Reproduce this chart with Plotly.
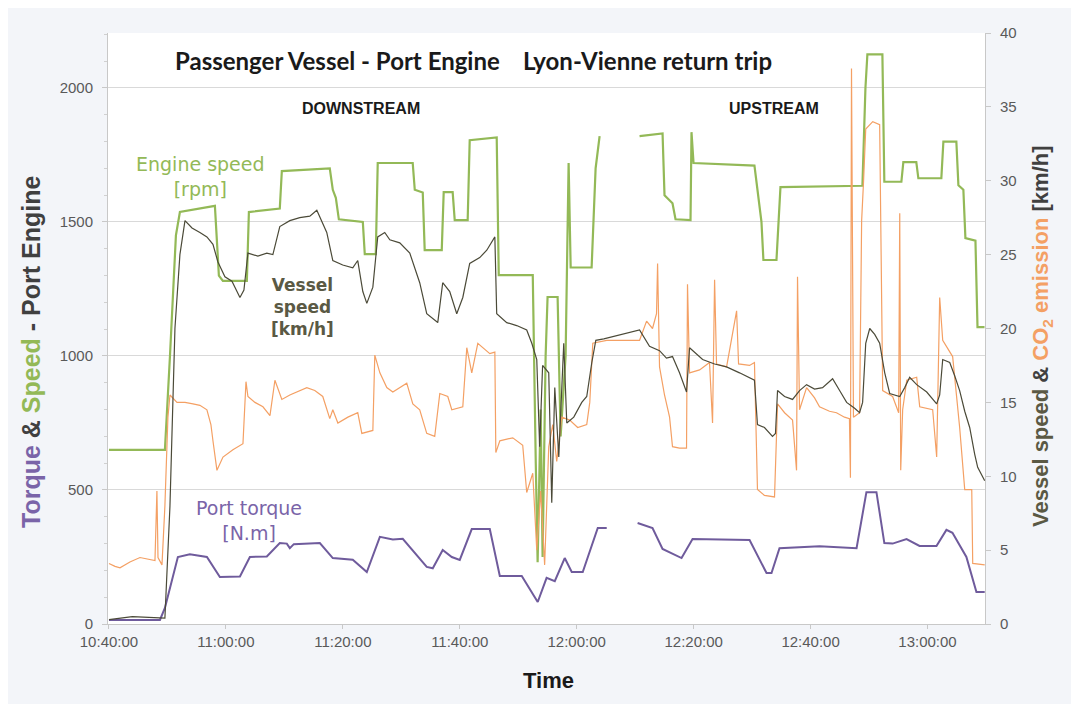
import plotly.graph_objects as go

DAY = "2000-01-01 "

# ---------------- data ----------------
engine_t = ["10:40:00","10:49:34","10:50:26","10:51:27","10:52:08","10:58:07","10:58:48","10:59:29",
            "11:03:35","11:03:56","11:09:13","11:09:34","11:17:46","11:18:17","11:18:48","11:19:19",
            "11:23:25","11:23:45","11:25:38","11:25:58","11:31:57","11:32:18","11:33:40","11:34:00",
            "11:36:55","11:37:15","11:38:47","11:39:08","11:41:21","11:41:42","11:46:19","11:46:40",
            "11:52:19","11:52:29","11:53:00","11:53:19","11:53:50","11:54:10","11:54:41","11:55:01",
            "11:56:44","11:57:15","11:58:06","11:58:37","11:58:58","12:02:33","12:03:14","12:03:55",
            "12:07:00",
            "12:10:45","12:14:41","12:15:01","12:16:23","12:16:54","12:19:28","12:19:38","12:19:59",
            "12:30:24","12:31:05","12:31:36","12:31:56","12:34:10","12:34:51","12:48:52","12:49:23",
            "12:49:43","12:52:17","12:52:37","12:55:32","12:55:52","12:58:05","12:58:26","13:02:22",
            "13:02:43","13:04:56","13:05:17","13:06:08","13:06:29","13:08:12","13:08:33","13:09:45"]
engine_rpm = [650,650,1000,1450,1537,1560,1300,1280,
              1280,1537,1550,1690,1700,1620,1590,1510,
              1500,1380,1380,1720,1720,1620,1610,1395,
              1395,1611,1611,1507,1507,1805,1815,1302,
              1302,1302,600,230,800,250,1000,1220,
              1220,700,1000,1720,1330,1330,1700,1820,
              None,
              1820,1830,1600,1570,1510,1507,1835,1720,
              1710,1600,1500,1358,1358,1630,1635,2000,
              2125,2125,1650,1650,1723,1723,1663,1663,
              1800,1800,1637,1620,1440,1430,1108,1108]

vessel_t = ["10:40:00","10:44:00","10:49:34","10:50:26","10:51:17","10:52:08","10:53:00","10:54:12",
            "10:55:33","10:56:45","10:57:47","10:58:38","10:59:50","11:01:02","11:02:24","11:03:05",
            "11:03:46","11:05:28","11:07:00","11:08:02","11:09:13","11:10:56","11:12:38","11:14:21",
            "11:15:33","11:16:24","11:17:15","11:18:17","11:19:59","11:21:42","11:22:33","11:23:25",
            "11:24:06","11:25:08","11:25:58","11:27:10","11:28:02","11:29:44","11:31:27","11:33:09",
            "11:34:21","11:36:14","11:37:05","11:38:17","11:39:29","11:40:31","11:41:42","11:43:25",
            "11:44:37","11:46:00","11:46:19","11:48:02","11:49:44","11:51:27","11:52:19","11:53:10",
            "11:53:40","11:54:10","11:55:13","11:55:44","11:56:15","11:56:56","11:57:47","11:58:18",
            "11:59:30","12:00:52","12:01:43","12:02:35","12:03:16","12:04:38","12:10:45","12:12:27",
            "12:14:10","12:15:21","12:16:23","12:17:35","12:18:47","12:19:18","12:20:30","12:21:32",
            "12:23:35","12:25:38","12:27:51","12:29:34","12:30:24","12:30:55","12:32:07","12:33:29",
            "12:34:00","12:34:21","12:35:33","12:36:55","12:38:07","12:39:19","12:40:41","12:42:03",
            "12:43:46","12:44:58","12:46:10","12:47:32","12:48:23","12:48:54","12:49:26","12:50:07",
            "12:50:58","12:51:49","12:52:41","12:53:32","12:55:15","12:56:06","12:56:57","12:58:09",
            "12:59:52","13:01:34","13:02:05","13:02:36","13:03:48","13:04:39","13:05:30","13:06:22",
            "13:07:13","13:08:04","13:08:35","13:09:47"]
vessel_kmh = [0.3,0.5,0.4,8.0,20.0,25.0,27.3,26.8,
              26.5,26.2,25.7,24.5,23.5,23.2,22.1,22.6,
              25.1,24.9,25.1,25.0,26.9,27.3,27.5,27.6,
              28.0,27.3,26.5,24.6,24.3,24.1,24.6,22.5,
              21.7,22.8,26.2,26.5,26.0,25.8,25.1,23.1,
              21.0,20.4,23.1,22.5,21.0,22.1,24.4,24.8,
              25.3,26.2,21.0,20.4,20.2,19.9,19.0,17.9,
              12.0,17.5,17.0,8.2,16.0,11.3,19.0,13.6,
              14.0,15.0,15.4,17.7,19.2,19.3,19.9,18.8,
              18.5,18.0,18.1,17.0,15.7,18.7,18.3,17.9,
              17.6,17.4,17.0,16.7,16.5,13.5,13.3,12.7,
              12.9,15.8,15.4,15.2,15.8,16.2,15.9,16.0,
              16.6,15.8,15.0,14.6,14.3,15.0,19.0,20.0,
              19.6,19.0,17.0,15.6,15.4,16.0,16.7,16.2,
              15.7,14.9,15.5,17.9,17.7,16.8,15.8,14.4,
              13.3,11.5,10.6,9.7]

co2_t = ["10:40:00","10:41:02","10:41:53","10:43:35","10:45:18","10:46:40","10:47:52","10:48:12",
         "10:48:23","10:49:04","10:49:34","10:50:05","10:50:26","10:51:38","10:53:00","10:54:22",
         "10:55:33","10:56:45","10:57:26","10:57:47","10:58:28","10:59:30","11:01:12","11:02:55",
         "11:03:26","11:03:46","11:04:58","11:06:20","11:07:32","11:08:23","11:09:34","11:10:56",
         "11:12:38","11:13:50","11:15:12","11:16:34","11:17:46","11:18:17","11:19:09","11:20:52",
         "11:22:33","11:23:15","11:25:08","11:25:28","11:26:20","11:27:31","11:28:33","11:29:44",
         "11:30:56","11:31:58","11:33:09","11:34:21","11:35:43","11:36:35","11:37:57","11:38:38",
         "11:40:31","11:41:12","11:42:03","11:43:05","11:44:17","11:45:08","11:46:00","11:46:10",
         "11:46:51","11:49:04","11:50:46","11:51:27","11:52:29","11:53:10","11:53:50","11:54:31",
         "11:55:13","11:55:54","11:56:35","11:57:26","11:58:48","12:00:10","12:01:43","12:02:14",
         "12:02:45","12:03:57","12:05:08","12:10:45","12:11:57","12:12:58","12:13:39","12:13:50",
         "12:14:10","12:15:01","12:15:53","12:16:23","12:17:35","12:18:47","12:18:57","12:19:18",
         "12:21:01","12:22:43","12:23:14","12:23:35","12:23:55","12:25:38","12:27:21","12:27:41",
         "12:29:34","12:30:24","12:30:55","12:32:07","12:33:50","12:34:21","12:35:33","12:36:55",
         "12:37:36","12:37:46","12:38:07","12:39:19","12:40:41","12:41:32","12:43:14","12:44:26",
         "12:45:48","12:46:39","12:46:49","12:47:00","12:47:20","12:48:23","12:48:44","12:49:04",
         "12:49:26","12:50:38","12:51:49","12:52:20","12:54:02","12:55:04","12:55:15","12:55:25",
         "12:55:45","12:56:27","12:58:09","12:58:40","13:00:53","13:01:34","13:02:05","13:02:36",
         "13:04:18","13:05:30","13:06:22","13:07:34","13:07:44","13:09:47"]
co2_kmh = [4.1,3.9,3.8,4.2,4.5,4.4,4.3,9.0,
           4.5,4.0,8.0,14.0,15.5,15.0,15.0,14.9,
           14.8,14.5,13.5,12.4,10.4,11.3,11.8,12.2,
           16.4,15.4,15.0,14.7,14.1,16.5,15.2,15.5,
           15.8,16.0,15.8,15.4,13.9,14.5,13.6,14.0,
           14.3,12.9,13.1,18.2,17.0,16.0,15.7,16.0,
           16.3,14.9,14.5,12.9,12.7,15.6,15.4,14.5,
           14.7,18.7,17.0,19.0,18.6,18.3,18.4,11.6,
           12.4,12.6,12.1,8.9,10.2,5.0,9.0,4.0,
           12.0,13.5,11.0,14.0,13.8,13.3,13.5,15.0,
           19.0,19.1,19.2,19.2,20.5,20.0,21.0,24.4,
           17.4,15.5,14.0,12.0,11.9,11.9,23.0,17.0,
           17.2,17.7,13.6,23.3,17.6,17.4,21.2,17.6,
           17.5,17.7,9.1,8.7,8.6,14.9,14.3,13.8,
           10.4,23.5,14.5,16.0,15.3,14.7,14.4,14.3,
           14.0,13.9,9.9,37.6,14.0,14.3,27.3,30.0,
           33.5,34.0,33.8,15.8,15.4,14.3,27.8,10.4,
           14.5,16.5,16.7,14.7,14.5,11.3,22.1,19.2,
           18.1,13.3,9.1,9.1,4.1,4.0]

torque_t = ["10:40:00","10:48:43","10:49:34","10:51:47","10:53:50","10:56:45","10:58:58","11:02:24",
            "11:04:06","11:07:00","11:09:13","11:10:25","11:10:56","11:11:37","11:16:04","11:18:17",
            "11:21:42","11:24:06","11:26:20","11:28:33","11:30:15","11:34:21","11:35:23","11:37:05",
            "11:38:38","11:40:00","11:42:03","11:45:08","11:46:51","11:50:36","11:53:20","11:54:51",
            "11:56:15","11:57:57","11:59:09","12:01:02","12:03:36","12:05:08","12:07:00","12:10:25",
            "12:12:58","12:14:41","12:17:56","12:19:49","12:29:34","12:32:28","12:33:19","12:34:41",
            "12:41:32","12:47:52","12:49:33","12:51:16","12:52:37","12:54:02","12:56:25","12:58:38",
            "13:01:32","13:03:14","13:04:16","13:06:39","13:08:22","13:09:47"]
torque_nm = [15,15,60,250,260,250,175,177,
             250,252,302,300,283,298,302,246,
             240,194,325,315,318,213,208,276,
             250,239,354,354,179,179,82,172,
             160,246,194,194,358,358,None,377,
             358,280,246,317,313,190,190,283,
             290,283,492,492,302,300,317,291,
             291,351,340,250,119,119]

left_ticks = [0, 500, 1000, 1500, 2000]
right_ticks = [0, 5, 10, 15, 20, 25, 30, 35, 40]

# ---------------- styling ----------------
# the page adds an 8px body margin, so the figure is a bit smaller than the window
OFF = 8
W, H = 1079 - OFF, 704 - OFF
PL, PR, PT, PB = 108, 985, 33, 624      # plot box in page pixels
L, R, T, B = PL - OFF, (W + OFF) - PR, PT - OFF, (H + OFF) - PB
PW, PH = PR - PL, PB - PT

GREEN = "#93b957"
DARK = "#4b4a38"
ORANGE = "#f4a064"
PURPLE = "#6f5b9c"
AXISGREY = "#595959"


def px(x):
    return (x - PL) / PW


def py(y):
    return (PB - y) / PH


def ts(lst):
    return [DAY + t for t in lst]


fig = go.Figure()
fig.add_trace(go.Scatter(x=ts(co2_t), y=co2_kmh, yaxis="y2", mode="lines",
                         line=dict(color=ORANGE, width=1.2), connectgaps=True, showlegend=False))
fig.add_trace(go.Scatter(x=ts(engine_t), y=engine_rpm, mode="lines",
                         line=dict(color=GREEN, width=2.2), connectgaps=False, showlegend=False))
fig.add_trace(go.Scatter(x=ts(vessel_t), y=vessel_kmh, yaxis="y2", mode="lines",
                         line=dict(color=DARK, width=1.2), showlegend=False))
fig.add_trace(go.Scatter(x=ts(torque_t), y=torque_nm, mode="lines",
                         line=dict(color=PURPLE, width=2), connectgaps=False, showlegend=False))

tickfont = dict(family="Liberation Sans, Arial, sans-serif", size=15, color=AXISGREY)

fig.update_layout(
    width=W, height=H,
    margin=dict(l=L, r=R, t=T, b=B),
    paper_bgcolor="#f3f5f9",
    plot_bgcolor="#ffffff",
    xaxis=dict(type="date", range=[DAY + "10:39:50", DAY + "13:09:50"],
               tick0=DAY + "10:40:00", dtick=20 * 60 * 1000, tickformat="%H:%M:%S",
               showgrid=False, showline=True, linecolor="#c8c8c8", linewidth=1,
               ticks="outside", ticklen=4, tickcolor="#c8c8c8", tickfont=tickfont,
               zeroline=False),
    yaxis=dict(range=[0, 2205], tickvals=left_ticks, showgrid=True, gridcolor="#d9d9d9",
               gridwidth=1, showline=True, linecolor="#c8c8c8", ticks="outside", ticklen=5,
               tickcolor="#c8c8c8", tickfont=tickfont, zeroline=False,
               minor=dict(dtick=100, ticks="outside", ticklen=3, tickcolor="#d0d0d0", showgrid=False),
               ticklabelstandoff=6),
    yaxis2=dict(range=[0, 40], tickvals=right_ticks, overlaying="y", side="right",
                showgrid=False, showline=True, linecolor="#c8c8c8", ticks="outside", ticklen=5,
                tickcolor="#c8c8c8", tickfont=tickfont, zeroline=False, ticklabelstandoff=6),
)


def ann(text, x, y, size, color="#000000", family="Lato, Arial, sans-serif", angle=0, **kw):
    fig.add_annotation(text=text, x=px(x), y=py(y), xref="paper", yref="paper",
                       showarrow=False, xanchor="center", yanchor="middle", textangle=angle,
                       font=dict(family=family, size=size, color=color), **kw)


ann("<b>Passenger Vessel - Port Engine</b>", 337, 60, 24, "#1a1a1a")
ann("<b>Lyon-Vienne return trip</b>", 647, 60, 24, "#1a1a1a")
ann("<b>DOWNSTREAM</b>", 361, 108, 16, "#1a1a1a", family="Liberation Sans, Arial, sans-serif")
ann("<b>UPSTREAM</b>", 774, 108, 16, "#1a1a1a", family="Liberation Sans, Arial, sans-serif")
ann("Engine speed<br>[rpm]", 200, 177, 19, GREEN, family="DejaVu Sans, Verdana, sans-serif")
ann("<b>Vessel<br>speed<br>[km/h]</b>", 302, 307, 17, "#5a5944", family="DejaVu Sans, Verdana, sans-serif")
ann("Port torque<br>[N.m]", 249, 520, 19, "#7a64a8", family="DejaVu Sans, Verdana, sans-serif")
ann("<b>Time</b>", 548, 680, 22, "#1a1a1a", family="Liberation Sans, Arial, sans-serif")

ann("<b><span style='color:#7a64a8'>Torque</span> & <span style='color:%s'>Speed</span> - Port Engine</b>" % GREEN,
    31, 352, 25, "#404040", family="Liberation Sans, Arial, sans-serif", angle=-90)
ann("<b><span style='color:#5a5944'>Vessel speed</span> & <span style='color:%s'>CO<sub>2</sub> emission</span> [km/h]</b>" % ORANGE,
    1042, 336, 22, "#404040", family="Liberation Sans, Arial, sans-serif", angle=-90)

fig.write_html("out.html")
